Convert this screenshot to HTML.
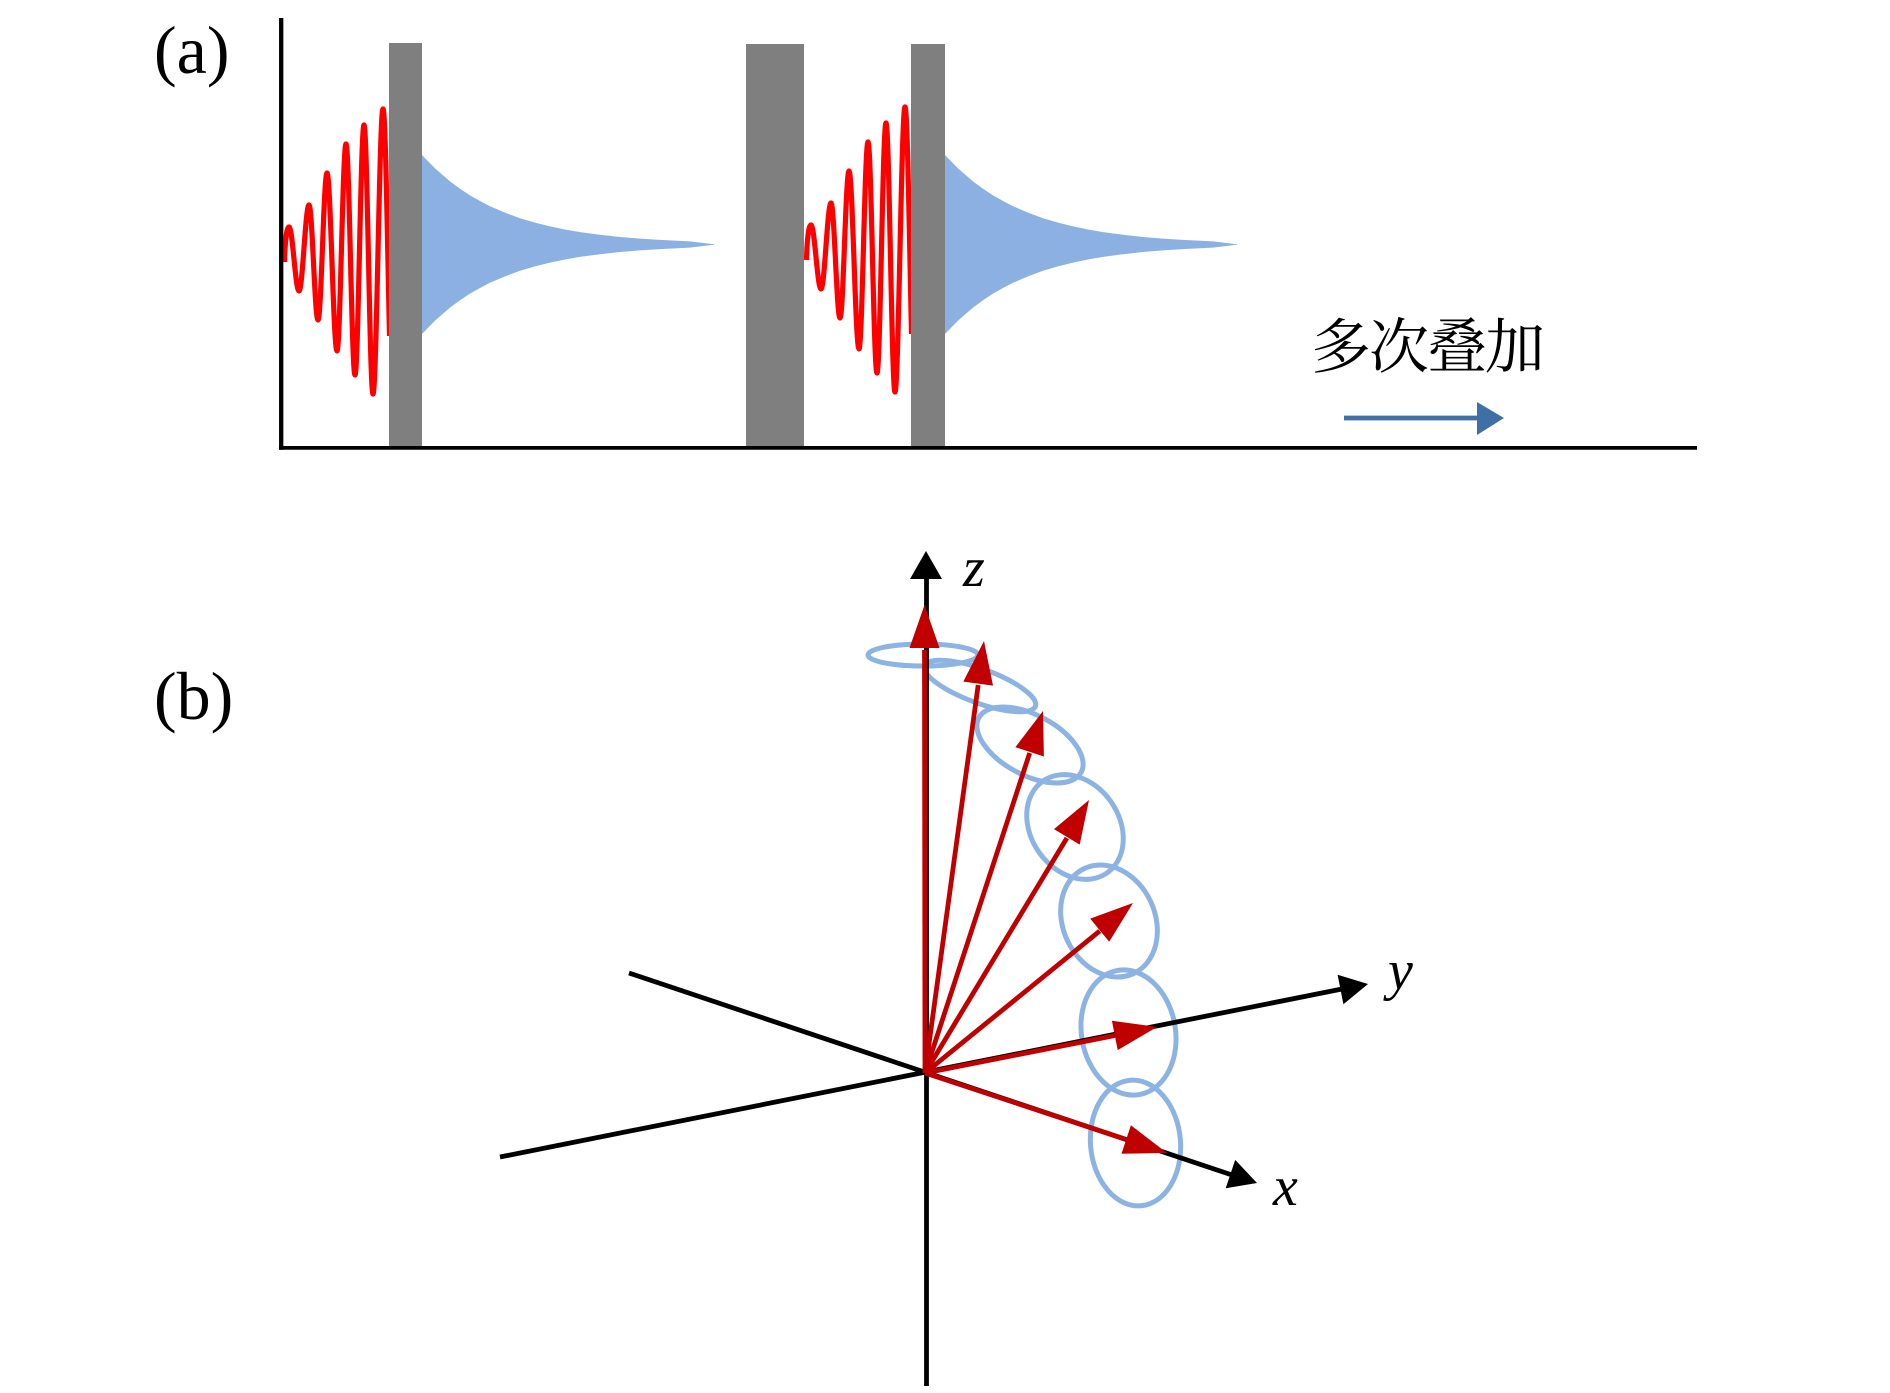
<!DOCTYPE html>
<html>
<head>
<meta charset="utf-8">
<style>
  html, body { margin: 0; padding: 0; background: #ffffff; }
  svg { display: block; }
</style>
</head>
<body>
<svg width="1890" height="1393" viewBox="0 0 1890 1393" xmlns="http://www.w3.org/2000/svg">
  <rect x="0" y="0" width="1890" height="1393" fill="#ffffff"/>

  <defs>
    <path id="blue" fill="#8db0e3" d="M422,155 L435,168.4 L450,181.4 L460,188.8 L470,195.4 L480,201 L490,206.2 L505,212.6 L520,218.2 L535,222.6 L550,226.4 L565,229.5 L580,232.1 L600,234.8 L620,237 L640,238.6 L660,239.9 L690,241.4 L714,244.2 L714,244.8 L690,247.6 L660,249.1 L640,250.4 L620,252 L600,254.2 L580,256.9 L565,259.5 L550,262.6 L535,266.4 L520,270.8 L505,276.4 L490,282.8 L480,288 L470,293.6 L460,300.2 L450,307.6 L435,320.6 L422,334 Z"/>
    <path id="wave" fill="none" stroke="#ff0000" stroke-width="5.2" stroke-linejoin="round" stroke-linecap="butt"
      d="M284.5,262 C285,242 286.6,227 289,227
         C292.6,227 295.4,291 299,291
         C302.6,291 305.4,205 309,205
         C312.3,205 314.7,320 318,320
         C321.3,320 323.7,173 327,173
         C330.6,173 333.4,351 337,351
         C340.3,351 342.7,144 346,144
         C349.3,144 351.7,375 355,375
         C358.3,375 360.7,125 364,125
         C367.3,125 369.7,394 373,394
         C376.6,394 379.4,109 383,109
         C385.4,109 387.2,230 389.5,336"/>
  </defs>

  <!-- ===== Panel (a) ===== -->
  <text x="154" y="73" font-family="'Liberation Serif', serif" font-size="68" fill="#000">(a)</text>

  <use href="#blue"/>
  <use href="#blue" transform="translate(523,0)"/>
  <use href="#wave"/>
  <use href="#wave" transform="translate(522,-2)"/>

  <rect x="389" y="43" width="33" height="403" fill="#7f7f7f"/>
  <rect x="746" y="44" width="58" height="402" fill="#7f7f7f"/>
  <rect x="911" y="44" width="34" height="402" fill="#7f7f7f"/>

  <line x1="281.2" y1="18" x2="281.2" y2="449.7" stroke="#000" stroke-width="4.3"/>
  <line x1="279" y1="447.9" x2="1697" y2="447.9" stroke="#000" stroke-width="3.8"/>

  <text x="1311" y="368" font-family="'Liberation Serif', 'Noto Serif CJK SC', serif" font-size="60" letter-spacing="-2" fill="#000">多次叠加</text>

  <line x1="1344" y1="418" x2="1479" y2="418" stroke="#3e70a6" stroke-width="4.7"/>
  <polygon points="1477,402 1504,418 1477,435" fill="#3e70a6"/>

  <!-- ===== Panel (b) ===== -->
  <text x="154" y="719" font-family="'Liberation Serif', serif" font-size="68" fill="#000">(b)</text>

  <!-- ellipses -->
  <g fill="none" stroke="#8db3e2" stroke-width="5">
    <ellipse cx="923" cy="655" rx="55" ry="11"/>
    <ellipse cx="980" cy="686" rx="59" ry="17" transform="rotate(20 980 686)"/>
    <ellipse cx="1030" cy="745" rx="58" ry="30" transform="rotate(28 1030 745)"/>
    <ellipse cx="1075" cy="827" rx="56" ry="44" transform="rotate(55 1075 827)"/>
    <ellipse cx="1109" cy="921" rx="58" ry="46" transform="rotate(65 1109 921)"/>
    <ellipse cx="1128.5" cy="1032.5" rx="63" ry="47" transform="rotate(80 1128.5 1032.5)"/>
    <ellipse cx="1135.5" cy="1143" rx="45" ry="63" transform="rotate(-5 1135.5 1143)"/>
  </g>

  <!-- black axes -->
  <g stroke="#000" stroke-width="4.8" fill="none">
    <line x1="926.5" y1="1386" x2="926.5" y2="576"/>
    <line x1="500" y1="1157" x2="1342" y2="989"/>
    <line x1="629" y1="973" x2="1232" y2="1175"/>
  </g>
  <polygon points="926,551 942,579 910,579" fill="#000"/>
  <polygon points="1368,984 1343.4,1004.2 1337.6,974.8" fill="#000"/>
  <polygon points="1257,1183 1225.7,1188.3 1235.2,1159.9" fill="#000"/>

  <!-- red vectors -->
  <g stroke="#c00000" stroke-width="4.8" fill="none" stroke-linecap="butt">
    <line x1="925" y1="1073" x2="924.5" y2="650"/>
    <line x1="925" y1="1073" x2="978.2" y2="685"/>
    <line x1="925" y1="1073" x2="1029.7" y2="753"/>
    <line x1="925" y1="1073" x2="1066.9" y2="838"/>
    <line x1="925" y1="1073" x2="1099.7" y2="931"/>
    <line x1="925" y1="1073" x2="1114.8" y2="1035.5"/>
    <line x1="925" y1="1073" x2="1126.2" y2="1139.5"/>
  </g>
  <g fill="#c00000">
    <polygon points="924.5,605 939.5,648 909.5,648"/>
    <polygon points="984,641 993,685.6 963.3,681.6"/>
    <polygon points="1043,711 1043.9,756.5 1015.4,747.2"/>
    <polygon points="1089,800 1079.7,844.6 1054,829.1"/>
    <polygon points="1133,903 1109.2,941.8 1090.2,918.6"/>
    <polygon points="1157,1027 1117.7,1050.1 1111.9,1020.7"/>
    <polygon points="1167,1153 1121.5,1153.7 1130.9,1125.3"/>
  </g>

  <!-- axis labels -->
  <g font-family="'Liberation Serif', serif" font-style="italic" font-size="56" fill="#000">
    <text x="963" y="586">z</text>
    <text x="1388" y="989">y</text>
    <text x="1273" y="1205">x</text>
  </g>
</svg>
</body>
</html>
